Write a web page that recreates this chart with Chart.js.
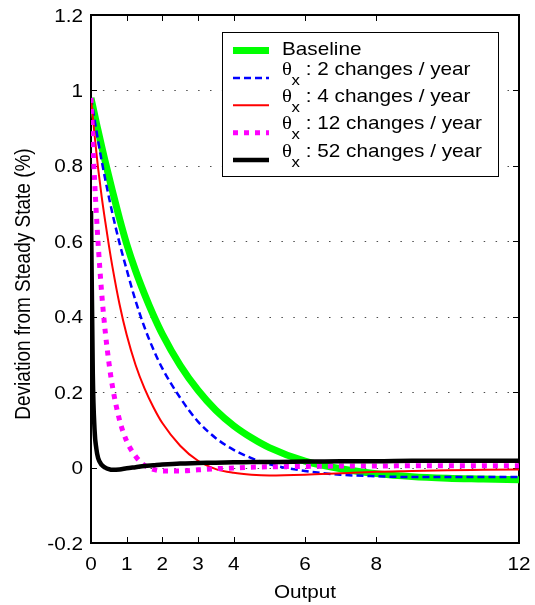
<!DOCTYPE html>
<html lang="en">
<head>
<meta charset="UTF-8">
<title>Deviation from Steady State</title>
<script src="https://cdn.jsdelivr.net/npm/chart.js"></script>
<style>
    * { margin: 0; padding: 0; box-sizing: border-box; }
    body { background: #fff; width: 535px; height: 605px; overflow: hidden; }
    #chart { display: block; }
</style>
</head>
<body>
<canvas id="chart" width="535" height="605"></canvas>
<script>
// x = output horizon, one value per grid point for every series
const outputGrid = [0, 0.05, 0.1, 0.15, 0.2, 0.3, 0.4, 0.5, 0.6, 0.8, 1, 1.25, 1.5, 1.75, 2, 2.5, 3, 3.5, 4, 4.5, 5, 6, 7, 8, 9, 10, 11, 12];
const baseline        = [0.98, 0.958, 0.936, 0.914, 0.893, 0.851, 0.811, 0.772, 0.734, 0.66, 0.593, 0.522, 0.46, 0.404, 0.354, 0.271, 0.205, 0.152, 0.111, 0.079, 0.053, 0.017, -0.003, -0.016, -0.024, -0.028, -0.03, -0.032];
const twoPerYear      = [0.98, 0.951, 0.922, 0.894, 0.866, 0.813, 0.764, 0.718, 0.674, 0.595, 0.525, 0.442, 0.372, 0.313, 0.263, 0.185, 0.122, 0.078, 0.047, 0.025, 0.009, -0.009, -0.019, -0.023, -0.025, -0.025, -0.025, -0.025];
const fourPerYear     = [0.98, 0.93, 0.882, 0.836, 0.793, 0.718, 0.652, 0.59, 0.533, 0.433, 0.352, 0.272, 0.21, 0.16, 0.118, 0.058, 0.018, -0.004, -0.014, -0.019, -0.021, -0.019, -0.015, -0.011, -0.009, -0.007, -0.006, -0.005];
const twelvePerYear   = [0.98, 0.865, 0.763, 0.673, 0.594, 0.462, 0.36, 0.28, 0.216, 0.126, 0.07, 0.03, 0.006, -0.005, -0.009, -0.009, -0.006, -0.003, -0.001, 0.001, 0.002, 0.003, 0.004, 0.004, 0.005, 0.005, 0.005, 0.005];
const fiftyTwoPerYear = [0.68, 0.25, 0.1, 0.05, 0.025, 0.007, 0.0, -0.004, -0.006, -0.005, -0.002, 0.001, 0.004, 0.006, 0.008, 0.011, 0.012, 0.013, 0.014, 0.015, 0.015, 0.016, 0.017, 0.017, 0.018, 0.018, 0.018, 0.018];

const legendLabels = ['Baseline', 'θ_x : 2 changes / year', 'θ_x : 4 changes / year', 'θ_x : 12 changes / year', 'θ_x : 52 changes / year'];
const xTicks = [0, 1, 2, 3, 4, 6, 8, 12];
const yTicks = [-0.2, 0, 0.2, 0.4, 0.6, 0.8, 1, 1.2];
const xTitle = 'Output';
const yTitle = 'Deviation from Steady State (%)';

const SX = 1.12; // text in the original is a bit wide
const FONT = '18.5px "Liberation Sans", Arial, sans-serif';

function toPoints(values) {
    return outputGrid.map((x, i) => ({ x: x, y: values[i] }));
}

function wideText(ctx, str, x, y, align, font) {
    ctx.save();
    ctx.font = font || FONT;
    ctx.textAlign = align || 'left';
    ctx.textBaseline = 'alphabetic';
    ctx.fillStyle = '#000';
    ctx.translate(x, y);
    ctx.scale(SX, 1);
    ctx.fillText(str, 0, 0);
    ctx.restore();
}

const matlabAxes = {
    id: 'matlabAxes',
    beforeDatasetsDraw(chart) {
        const { ctx, chartArea: a, scales: { x, y } } = chart;
        ctx.save();
        // dotted horizontal grid
        ctx.strokeStyle = 'rgba(0,0,0,0.7)';
        ctx.lineWidth = 1;
        ctx.setLineDash([1.5, 10.4]);
        y.ticks.forEach(t => {
            if (t.value <= y.min || t.value >= y.max) return;
            const py = Math.round(y.getPixelForValue(t.value)) + 0.5;
            ctx.beginPath();
            ctx.moveTo(a.left, py);
            ctx.lineTo(a.right, py);
            ctx.stroke();
        });
        ctx.setLineDash([]);

        // inward ticks on all four sides
        ctx.strokeStyle = '#000';
        ctx.beginPath();
        y.ticks.forEach(t => {
            const py = Math.round(y.getPixelForValue(t.value)) + 0.5;
            ctx.moveTo(a.left, py); ctx.lineTo(a.left + 6, py);
            ctx.moveTo(a.right, py); ctx.lineTo(a.right - 6, py);
        });
        x.ticks.forEach(t => {
            const px = Math.round(x.getPixelForValue(t.value)) + 0.5;
            ctx.moveTo(px, a.bottom); ctx.lineTo(px, a.bottom - 6);
            ctx.moveTo(px, a.top); ctx.lineTo(px, a.top + 6);
        });
        ctx.stroke();

        ctx.lineWidth = 2;
        ctx.strokeRect(a.left, a.top, a.right - a.left, a.bottom - a.top);
        ctx.restore();
    },
    afterDraw(chart) {
        const { ctx, chartArea: a, scales: { x, y } } = chart;

        y.ticks.forEach(t => {
            wideText(ctx, String(t.value), a.left - 8, y.getPixelForValue(t.value) + 6.6, 'right');
        });
        x.ticks.forEach(t => {
            wideText(ctx, String(t.value), x.getPixelForValue(t.value), a.bottom + 26.5, 'center');
        });
        wideText(ctx, xTitle, (a.left + a.right) / 2, a.bottom + 55, 'center');

        // rotated y title
        ctx.save();
        ctx.font = '19px "Liberation Sans", Arial, sans-serif';
        ctx.textAlign = 'center';
        ctx.textBaseline = 'alphabetic';
        ctx.fillStyle = '#000';
        ctx.translate(30, (a.top + a.bottom) / 2 + 5);
        ctx.rotate(-Math.PI / 2);
        ctx.scale(1, SX);
        ctx.fillText(yTitle, 0, 0);
        ctx.restore();

        // legend box, top right
        const box = { left: 222, top: 32, right: 498, bottom: 176 };
        ctx.save();
        ctx.fillStyle = '#fff';
        ctx.fillRect(box.left, box.top, box.right - box.left, box.bottom - box.top);
        ctx.strokeStyle = '#000';
        ctx.lineWidth = 1;
        ctx.strokeRect(box.left + 0.5, box.top + 0.5, box.right - box.left, box.bottom - box.top);

        chart.data.datasets.forEach((ds, i) => {
            const ly = 50.5 + 27.4 * i;
            ctx.strokeStyle = ds.borderColor;
            ctx.lineWidth = ds.borderWidth;
            ctx.setLineDash(ds.borderDash || []);
            ctx.beginPath();
            ctx.moveTo(233, ly);
            ctx.lineTo(269, ly);
            ctx.stroke();
            ctx.setLineDash([]);

            const label = ds.label;
            if (label.indexOf('_x') > 0) {
                const parts = label.split('_x');
                wideText(ctx, parts[0], 282, ly - 3.3, 'left', '18.5px "Liberation Serif", serif');
                wideText(ctx, 'x', 291.5, ly + 6.7, 'left', '15px "Liberation Sans", Arial, sans-serif');
                wideText(ctx, parts[1], 300, ly - 3.3, 'left');
            } else {
                wideText(ctx, label, 282, ly + 4.5, 'left');
            }
        });
        ctx.restore();
    }
};

const common = { pointRadius: 0, fill: false, cubicInterpolationMode: 'monotone', borderCapStyle: 'butt' };

new Chart(document.getElementById('chart'), {
    type: 'line',
    data: {
        datasets: [
            { ...common, label: legendLabels[0], data: toPoints(baseline), borderColor: '#00ff00', borderWidth: 7, order: 5 },
            { ...common, label: legendLabels[1], data: toPoints(twoPerYear), borderColor: '#0000ff', borderWidth: 2.5, borderDash: [7, 4], order: 4 },
            { ...common, label: legendLabels[2], data: toPoints(fourPerYear), borderColor: '#ff0000', borderWidth: 2, order: 3 },
            { ...common, label: legendLabels[3], data: toPoints(twelvePerYear), borderColor: '#ff00ff', borderWidth: 5, borderDash: [5, 6], order: 2 },
            { ...common, label: legendLabels[4], data: toPoints(fiftyTwoPerYear), borderColor: '#000000', borderWidth: 4.5, order: 1 }
        ]
    },
    options: {
        responsive: false,
        animation: false,
        devicePixelRatio: 1,
        layout: { padding: { top: 15, right: 16, left: 0, bottom: 0 } },
        plugins: {
            legend: { display: false },
            tooltip: { enabled: false }
        },
        scales: {
            x: {
                type: 'linear',
                min: 0,
                max: 12,
                afterBuildTicks: s => { s.ticks = xTicks.map(v => ({ value: v })); },
                afterFit: s => { s.height = 62; },
                ticks: { display: false },
                grid: { display: false },
                border: { display: false }
            },
            y: {
                type: 'linear',
                min: -0.2,
                max: 1.2,
                afterBuildTicks: s => { s.ticks = yTicks.map(v => ({ value: v })); },
                afterFit: s => { s.width = 91; },
                ticks: { display: false },
                grid: { display: false },
                border: { display: false }
            }
        }
    },
    plugins: [matlabAxes]
});
</script>
</body>
</html>
